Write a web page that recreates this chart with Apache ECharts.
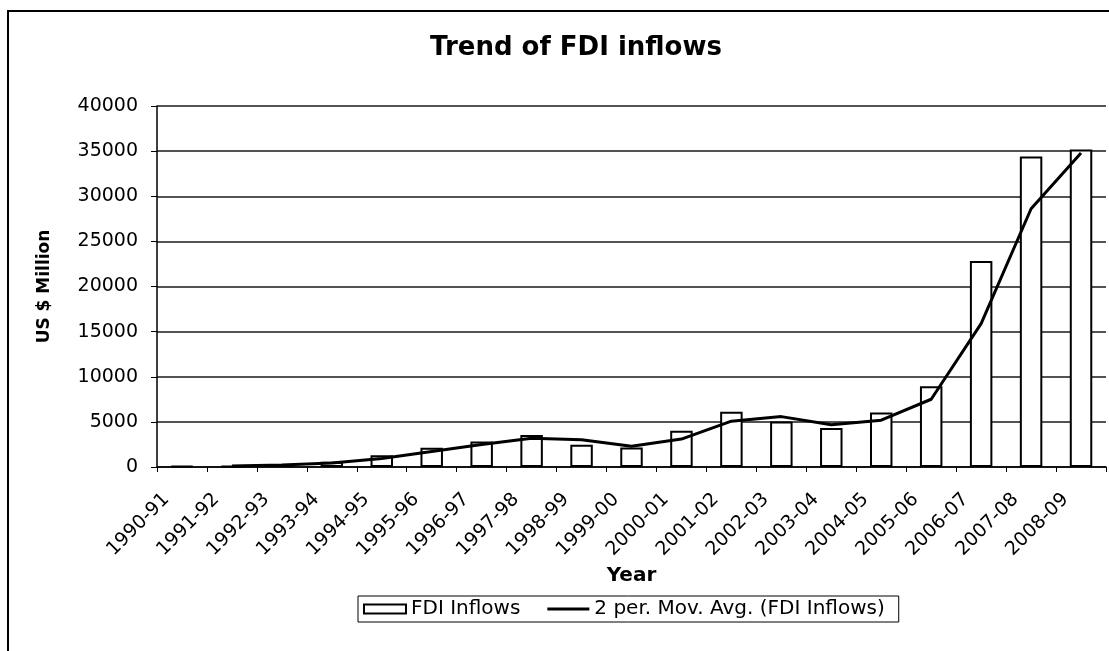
<!DOCTYPE html>
<html>
<head>
<meta charset="utf-8">
<title>Trend of FDI inflows</title>
<script src="https://cdn.jsdelivr.net/npm/echarts@6/dist/echarts.min.js"></script>
<style>
  html, body { margin: 0; padding: 0; background: #fff; }
  #chart { width: 1109px; height: 651px; }
</style>
</head>
<body>
<div id="chart"></div>
<script>
// Financial years on the category axis
const years = [
  '1990-91', '1991-92', '1992-93', '1993-94', '1994-95', '1995-96', '1996-97',
  '1997-98', '1998-99', '1999-00', '2000-01', '2001-02', '2002-03', '2003-04',
  '2004-05', '2005-06', '2006-07', '2007-08', '2008-09'
];

// FDI inflows, US $ million
const fdiInflows = [
  97, 129, 315, 586, 1314, 2144, 2821, 3557, 2462, 2155,
  4029, 6130, 5035, 4322, 6051, 8961, 22826, 34400, 35180
];

// 2-period moving average of the inflows (first year has no value)
const movingAvg = [
  null, 113, 222, 451, 950, 1729, 2483, 3189, 3010, 2309,
  3092, 5080, 5583, 4679, 5187, 7506, 15894, 28613, 34790
];

// Value axis ticks
const yMin = 0;
const yMax = 40000;
const yStep = 5000;

const FONT = 'DejaVu Sans';

const chart = echarts.init(document.getElementById('chart'), null, { renderer: 'canvas' });

chart.setOption({
  backgroundColor: '#ffffff',
  animation: false,
  title: {
    text: 'Trend of FDI inflows',
    left: 571,
    top: 30,
    textAlign: 'center',
    textStyle: { fontFamily: FONT, fontWeight: 'bold', fontSize: 26, color: '#000' }
  },
  graphic: [
    {
      // chart frame, running off the right and bottom edges
      type: 'rect',
      shape: { x: 8, y: 11, width: 1200, height: 700 },
      style: { fill: 'none', stroke: '#000', lineWidth: 2 },
      silent: true
    }
  ],
  legend: {
    left: 358,
    top: 596,
    padding: [3, 14, 3, 5],
    itemGap: 27,
    itemWidth: 42,
    itemHeight: 9,
    borderColor: '#000',
    borderWidth: 1,
    borderRadius: 0,
    textStyle: { fontFamily: FONT, fontSize: 20, color: '#000' },
    data: [
      { name: 'FDI Inflows', icon: 'rect' },
      { name: '2 per. Mov. Avg. (FDI Inflows)', icon: 'path://M0,0 H42 V3 H0 Z' }
    ]
  },
  grid: {
    left: 157,
    right: 3,
    top: 106,
    bottom: 184,
    containLabel: false
  },
  xAxis: {
    type: 'category',
    data: years,
    boundaryGap: true,
    name: 'Year',
    nameLocation: 'middle',
    nameGap: 99,
    nameMoveOverlap: false,
    nameTextStyle: { fontFamily: FONT, fontWeight: 'bold', fontSize: 20, color: '#000' },
    axisLine: { lineStyle: { color: '#000', width: 1.5 } },
    axisTick: { show: true, alignWithLabel: false, length: 5, lineStyle: { color: '#000' } },
    axisLabel: {
      interval: 0,
      rotate: 45,
      margin: 14,
      padding: [0, 22, 0, 0],
      fontFamily: FONT,
      fontSize: 19,
      color: '#000'
    },
    splitLine: { show: false }
  },
  yAxis: {
    type: 'value',
    min: yMin,
    max: yMax,
    interval: yStep,
    name: 'US $ Million',
    nameLocation: 'middle',
    nameGap: 104,
    nameMoveOverlap: false,
    nameTextStyle: { fontFamily: FONT, fontWeight: 'bold', fontSize: 17, color: '#000' },
    axisLine: { show: true, lineStyle: { color: '#000', width: 1.5 } },
    axisTick: { show: true, inside: false, length: 6, lineStyle: { color: '#000' } },
    axisLabel: {
      margin: 19,
      fontFamily: FONT,
      fontSize: 19,
      color: '#000',
      formatter: (v) => String(v)
    },
    splitLine: { show: true, lineStyle: { color: '#1a1a1a', width: 1.5 } }
  },
  series: [
    {
      name: 'FDI Inflows',
      type: 'bar',
      data: fdiInflows,
      barWidth: '45%',
      itemStyle: { color: '#ffffff', borderColor: '#000', borderWidth: 2 },
      z: 2
    },
    {
      name: '2 per. Mov. Avg. (FDI Inflows)',
      type: 'line',
      data: movingAvg,
      symbol: 'none',
      connectNulls: false,
      lineStyle: { color: '#000', width: 3 },
      itemStyle: { color: '#000' },
      z: 3
    }
  ]
});
</script>
</body>
</html>
